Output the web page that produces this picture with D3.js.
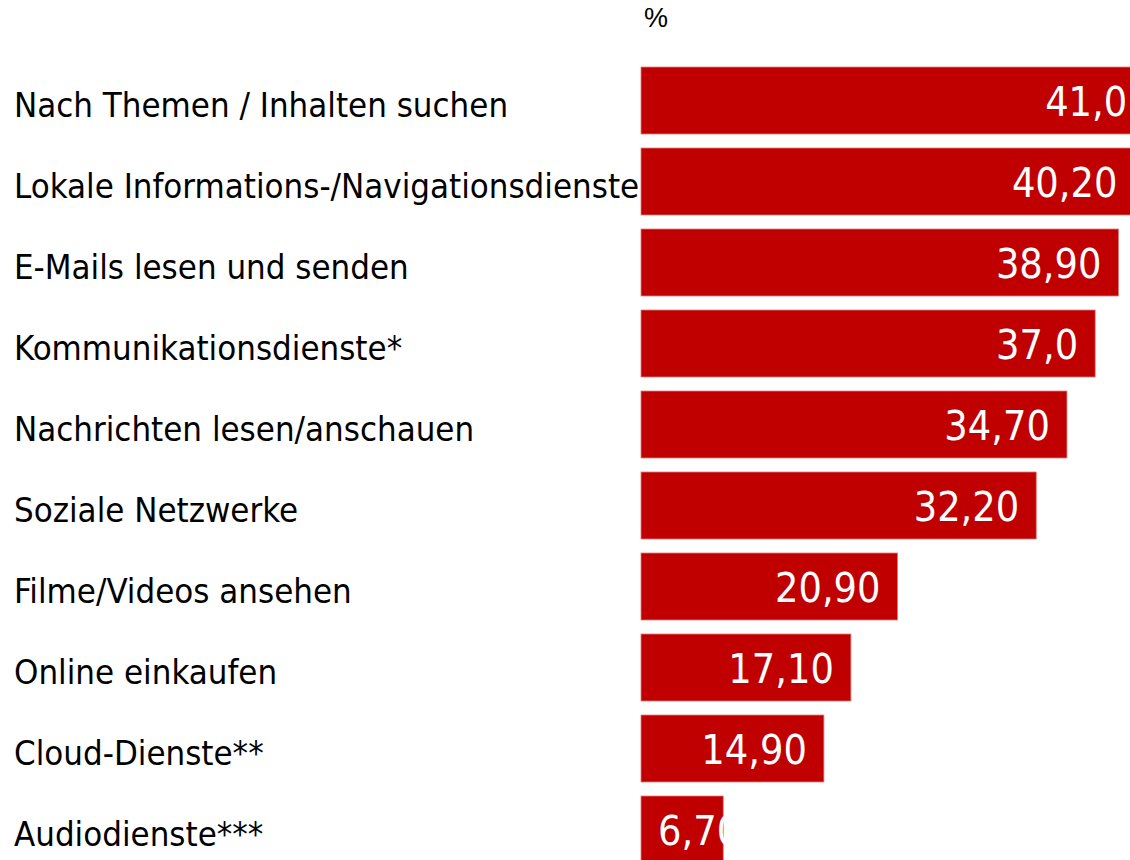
<!DOCTYPE html>
<html lang="de">
<head>
    <meta charset="UTF-8">
    <title>Mobile Internetnutzung</title>
    <script src="https://d3js.org/d3.v7.min.js"></script>
    <style>
        body { margin: 0; background: #fff; }
        .cat { font-family: "DejaVu Sans Condensed", "DejaVu Sans", sans-serif; font-stretch: condensed; font-size: 34.5px; fill: #000; }
        .val { font-family: "DejaVu Sans Condensed", "DejaVu Sans", sans-serif; font-stretch: condensed; font-size: 41px; fill: #fff; }
        .unit { font-family: "Liberation Sans", Arial, sans-serif; font-size: 27px; fill: #000; }
    </style>
</head>
<body>
    <svg width="1130" height="860"></svg>
    <script>
        const categories = [
            "Nach Themen / Inhalten suchen",
            "Lokale Informations-/Navigationsdienste",
            "E-Mails lesen und senden",
            "Kommunikationsdienste*",
            "Nachrichten lesen/anschauen",
            "Soziale Netzwerke",
            "Filme/Videos ansehen",
            "Online einkaufen",
            "Cloud-Dienste**",
            "Audiodienste***"
        ];
        const values = [41.0, 40.2, 38.9, 37.0, 34.7, 32.2, 20.9, 17.1, 14.9, 6.7];
        const valueLabels = ["41,0", "40,20", "38,90", "37,0", "34,70", "32,20", "20,90", "17,10", "14,90", "6,70"];

        const rows = categories.map((c, i) => ({ cat: c, value: values[i], label: valueLabels[i] }));

        const svg = d3.select("svg");

        const x = d3.scaleLinear().domain([0, 40]).range([641, 1132]);
        const y = d3.scaleBand().domain(categories).range([60, 870]).paddingInner(0.173).paddingOuter(0.0865);

        // unit
        svg.append("text")
            .attr("class", "unit")
            .attr("x", 644)
            .attr("y", 27)
            .text("%");

        // category labels
        svg.append("g")
            .selectAll("text")
            .data(rows)
            .join("text")
            .attr("class", "cat")
            .attr("x", 14)
            .attr("y", d => y(d.cat) + y.bandwidth() / 2 + 16)
            .text(d => d.cat);

        // bars
        svg.append("g")
            .selectAll("rect")
            .data(rows)
            .join("rect")
            .attr("x", x(0))
            .attr("y", d => y(d.cat))
            .attr("width", d => x(d.value) - x(0))
            .attr("height", y.bandwidth())
            .attr("fill", "#c00000")
            .attr("stroke", "#e07a7a")
            .attr("stroke-width", 0.8);

        // value labels, right aligned inside bar, never left of bar start
        const vals = svg.append("g")
            .selectAll("text")
            .data(rows)
            .join("text")
            .attr("class", "val")
            .attr("y", d => y(d.cat) + y.bandwidth() / 2 + 15.5)
            .text(d => d.label);

        vals.attr("x", function(d) {
            const w = this.getComputedTextLength();
            return Math.max(x(0) + 17, x(d.value) - 17 - w);
        });
    </script>
</body>
</html>
